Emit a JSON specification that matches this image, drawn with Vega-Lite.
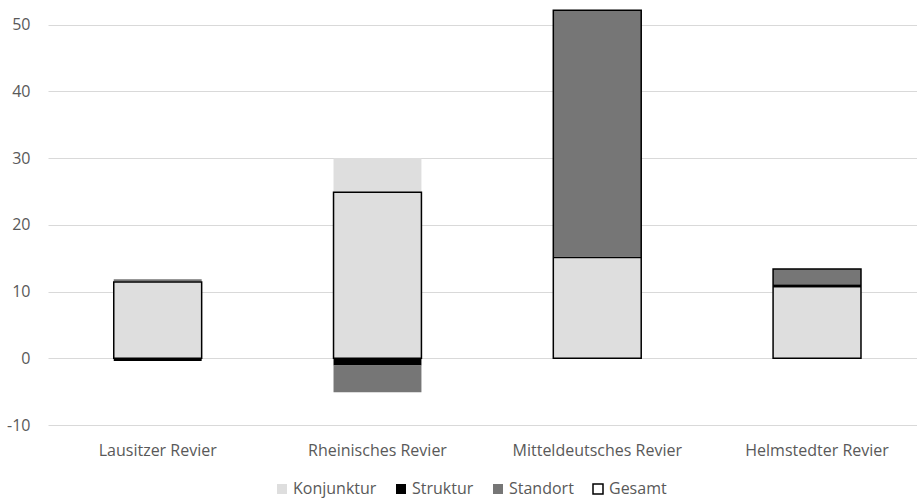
{
  "$schema": "https://vega.github.io/schema/vega-lite/v6.json",
  "width": 869,
  "height": 417,
  "autosize": {"type": "none"},
  "padding": {"left": 48, "top": 8, "right": 0, "bottom": 75},
  "background": "white",
  "config": {"view": {"stroke": null}, "font": "Open Sans"},
  "datasets": {
    "parts": [
      {"Revier": "Lausitzer Revier", "Komponente": "Konjunktur", "Rang": 1, "Wert": 11.5},
      {"Revier": "Lausitzer Revier", "Komponente": "Struktur", "Rang": 2, "Wert": -0.4},
      {"Revier": "Lausitzer Revier", "Komponente": "Standort", "Rang": 3, "Wert": 0.35},
      {"Revier": "Rheinisches Revier", "Komponente": "Konjunktur", "Rang": 1, "Wert": 30.0},
      {"Revier": "Rheinisches Revier", "Komponente": "Struktur", "Rang": 2, "Wert": -1.1},
      {"Revier": "Rheinisches Revier", "Komponente": "Standort", "Rang": 3, "Wert": -4.0},
      {"Revier": "Mitteldeutsches Revier", "Komponente": "Konjunktur", "Rang": 1, "Wert": 15.0},
      {"Revier": "Mitteldeutsches Revier", "Komponente": "Struktur", "Rang": 2, "Wert": 0.25},
      {"Revier": "Mitteldeutsches Revier", "Komponente": "Standort", "Rang": 3, "Wert": 36.9},
      {"Revier": "Helmstedter Revier", "Komponente": "Konjunktur", "Rang": 1, "Wert": 10.6},
      {"Revier": "Helmstedter Revier", "Komponente": "Struktur", "Rang": 2, "Wert": 0.5},
      {"Revier": "Helmstedter Revier", "Komponente": "Standort", "Rang": 3, "Wert": 2.3}
    ],
    "totals": [
      {"Revier": "Lausitzer Revier", "Gesamt": 11.45},
      {"Revier": "Rheinisches Revier", "Gesamt": 24.9},
      {"Revier": "Mitteldeutsches Revier", "Gesamt": 52.15},
      {"Revier": "Helmstedter Revier", "Gesamt": 13.4}
    ]
  },
  "layer": [
    {
      "data": {"name": "parts"},
      "mark": {"type": "bar"},
      "encoding": {
        "x": {
          "field": "Revier",
          "type": "nominal",
          "sort": ["Lausitzer Revier", "Rheinisches Revier", "Mitteldeutsches Revier", "Helmstedter Revier"],
          "scale": {"paddingInner": 0.6, "paddingOuter": 0.277, "align": 0.54},
          "title": null,
          "axis": {
            "labelAngle": 0,
            "domain": false,
            "ticks": false,
            "grid": false,
            "labelPadding": 17,
            "labelFontSize": 16,
            "labelColor": "#595959"
          }
        },
        "y": {
          "field": "Wert",
          "type": "quantitative",
          "stack": "zero",
          "scale": {"domain": [-10, 52.5], "nice": false, "zero": false},
          "title": null,
          "axis": {
            "values": [-10, 0, 10, 20, 30, 40, 50],
            "labelExpr": "'' + datum.value",
            "domain": false,
            "ticks": false,
            "labelPadding": 18,
            "labelFontSize": 16,
            "labelColor": "#595959",
            "gridColor": "#d9d9d9",
            "gridWidth": 1
          }
        },
        "order": {"field": "Rang", "type": "quantitative", "sort": "ascending"},
        "color": {
          "field": "Komponente",
          "type": "nominal",
          "sort": ["Konjunktur", "Struktur", "Standort", "Gesamt"],
          "scale": {
            "domain": ["Konjunktur", "Struktur", "Standort", "Gesamt"],
            "range": ["#dedede", "#000000", "#767676", "#ffffff"]
          },
          "legend": {
            "title": null,
            "orient": "none",
            "legendX": 226,
            "legendY": 473,
            "direction": "horizontal",
            "symbolType": "square",
            "symbolSize": 100,
            "labelFontSize": 16,
            "labelColor": "#595959",
            "columnPadding": 16,
            "symbolOffset": 0,
            "labelOffset": 3,
            "encode": {
              "symbols": {
                "update": {
                  "stroke": {"signal": "datum.value === 'Gesamt' ? 'black' : 'transparent'"},
                  "strokeWidth": {"value": 1.5}
                }
              }
            }
          }
        }
      }
    },
    {
      "data": {"name": "totals"},
      "mark": {"type": "bar", "fillOpacity": 0, "stroke": "black", "strokeWidth": 1.5},
      "encoding": {
        "x": {"field": "Revier", "type": "nominal", "sort": ["Lausitzer Revier", "Rheinisches Revier", "Mitteldeutsches Revier", "Helmstedter Revier"]},
        "y": {"field": "Gesamt", "type": "quantitative", "stack": null}
      }
    }
  ]
}
